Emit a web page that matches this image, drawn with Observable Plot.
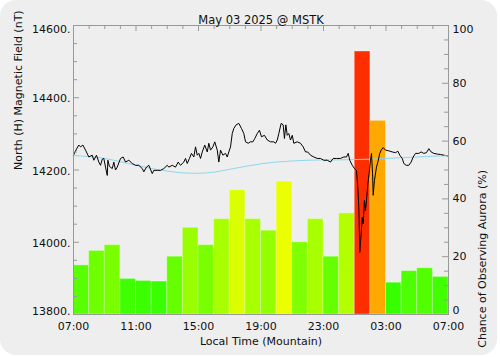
<!DOCTYPE html>
<html><head><meta charset="utf-8">
<script src="https://cdn.jsdelivr.net/npm/d3@7"></script>
<script src="https://cdn.jsdelivr.net/npm/@observablehq/plot@0.6"></script>
<style>
body{margin:0;background:#fff;}
#panel{position:absolute;left:0;top:0;width:497px;height:355px;background:#eeeeee;border-radius:16px;}
#chart{position:absolute;left:0;top:0;}
</style></head><body><div id="panel"></div><div id="chart"></div>
<script>
const title = "May 03 2025 @ MSTK";
const leftTitle = "North (H) Magnetic Field (nT)";
const rightTitle = "Chance of Observing Aurora (%)";
const xTitle = "Local Time (Mountain)";

// hourly bars: hours after 07:00 local
const barHours = [0,1,2,3,4,5,6,7,8,9,10,11,12,13,14,15,16,17,18,19,20,21,22,23];
const auroraChance = [17,22,24,12.3,11.6,11.4,20,30,24,33,43,33,29,46,25,33,20,35,91,67,11,15,16,13];

const xTickHours = [0,4,8,12,16,20,24];
const xTickLabels = ["07:00","11:00","15:00","19:00","23:00","03:00","07:00"];
const hourTicks = [1,2,3,5,6,7,9,10,11,13,14,15,17,18,19,21,22,23];
const fieldTicks = [13800,14000,14200,14400,14600];
const fieldMinorTicks = [13850,13900,13950,14050,14100,14150,14250,14300,14350,14450,14500,14550];
const chanceTicks = [0,20,40,60,80,100];
const chanceMinorTicks = [5,10,15,25,30,35,45,50,55,65,70,75,85,90,95];

const fieldHours = [0.00,0.19,0.34,0.45,0.60,0.77,0.98,1.20,1.30,1.47,1.62,1.73,1.84,1.94,2.05,2.16,2.20,2.30,2.48,2.58,2.69,2.80,3.01,3.18,3.33,3.54,3.76,3.97,4.18,4.40,4.50,4.67,4.82,5.04,5.14,5.36,5.57,5.78,6.00,6.10,6.32,6.53,6.70,6.85,7.06,7.17,7.28,7.42,7.55,7.70,7.81,7.92,8.02,8.13,8.24,8.40,8.56,8.66,8.77,8.92,9.04,9.20,9.30,9.41,9.56,9.73,9.84,9.94,10.05,10.16,10.26,10.41,10.58,10.75,10.90,11.01,11.18,11.33,11.48,11.60,11.76,11.90,12.03,12.22,12.40,12.61,12.82,12.93,13.04,13.14,13.29,13.42,13.50,13.59,13.68,13.78,13.89,14.00,14.10,14.32,14.53,14.70,14.85,14.99,15.17,15.38,15.60,15.81,16.02,16.24,16.45,16.62,16.83,17.09,17.30,17.47,17.58,17.68,17.84,17.98,18.11,18.20,18.26,18.32,18.41,18.48,18.54,18.62,18.69,18.75,18.84,18.92,19.01,19.07,19.14,19.18,19.26,19.39,19.48,19.60,19.69,19.82,19.97,20.18,20.40,20.61,20.76,20.88,21.04,21.14,21.29,21.46,21.61,21.74,21.89,22.10,22.25,22.42,22.59,22.74,22.89,23.06,23.28,23.49,23.70,23.95];
const fieldNT = [14241,14258,14269,14264,14269,14255,14236,14241,14227,14241,14222,14213,14230,14232,14208,14185,14227,14210,14204,14222,14200,14208,14232,14236,14222,14227,14218,14213,14213,14204,14195,14208,14213,14190,14199,14199,14199,14204,14213,14208,14213,14208,14222,14213,14222,14232,14218,14232,14246,14236,14264,14241,14246,14232,14250,14269,14250,14274,14255,14264,14278,14255,14222,14255,14241,14246,14236,14250,14264,14301,14315,14325,14329,14315,14301,14278,14274,14278,14278,14287,14301,14310,14292,14296,14283,14278,14278,14274,14283,14301,14329,14325,14287,14325,14296,14301,14283,14296,14274,14278,14274,14264,14250,14250,14241,14236,14232,14232,14227,14227,14222,14232,14232,14232,14236,14236,14246,14227,14213,14204,14199,14150,14097,13972,14023,14069,14051,14116,14088,14116,14162,14190,14227,14246,14190,14130,14171,14208,14222,14246,14255,14262,14255,14253,14250,14248,14252,14241,14232,14218,14213,14213,14222,14236,14246,14246,14250,14246,14248,14259,14250,14246,14244,14243,14241,14239];

const baseHours = [0,1,2,3,4,5,6,7,8,9,10,11,12,13,14,15,16,17,18,19,20,21,22,23,24];
const baseNT = [14240,14237,14232,14223,14213,14204,14197,14192,14191,14194,14202,14210,14217,14222,14225,14227,14228,14228,14229,14230,14232,14234,14236,14238,14240];

const FIELD_MIN = 13800, FIELD_MAX = 14600, NT_PER_PCT = 8;
const toNT = p => FIELD_MIN + p * NT_PER_PCT;

const bars = barHours.map((h, i) => ({h, pct: auroraChance[i]}));
const field = fieldHours.map((h, i) => ({h, v: fieldNT[i]}));
const base = baseHours.map((h, i) => ({h, v: baseNT[i]}));

const W = 500, H = 357, ML = 73, MR = 52, MT = 25, MB = 43;
const FW = W - ML - MR, FH = H - MT - MB;
const axisColor = "#999";

const fmtField = d => d + ".";
const fmtChance = d => String((d - FIELD_MIN) / NT_PER_PCT);
const chanceNT = chanceTicks.map(toNT);
const midField = fieldTicks.filter(d => d !== FIELD_MIN && d !== FIELD_MAX);
const midChance = chanceNT.filter(d => d !== FIELD_MIN && d !== FIELD_MAX);

const chart = Plot.plot({
  width: W, height: H,
  marginLeft: ML, marginRight: MR, marginTop: MT, marginBottom: MB,
  style: {background: "transparent", fontFamily: "DejaVu Sans", fontSize: "11px", color: "#111", overflow: "visible"},
  x: {domain: [0, 24]},
  y: {domain: [FIELD_MIN, FIELD_MAX]},
  color: {type: "linear", domain: [0, 50, 100], range: ["#00ff00", "#ffff00", "#ff0000"], interpolate: "rgb"},
  marks: [
    Plot.rect(bars, {x1: "h", x2: d => d.h + 1, y1: () => FIELD_MIN, y2: d => toNT(d.pct), fill: "pct", stroke: "#ffffff", strokeOpacity: 0.3, strokeWidth: 1}),
    Plot.line(base, {x: "h", y: "v", stroke: "#8fd6f0", strokeWidth: 1, curve: "natural"}),
    Plot.line(field, {x: "h", y: "v", stroke: "#000", strokeWidth: 1}),
    Plot.frame({stroke: axisColor}),
    Plot.tickY(fieldTicks, {y: d => d, insetRight: FW - 6, stroke: axisColor}),
    Plot.tickY(fieldMinorTicks, {y: d => d, insetRight: FW - 4, stroke: axisColor}),
    Plot.tickY(chanceTicks, {y: d => toNT(d), insetLeft: FW - 6, stroke: axisColor}),
    Plot.tickY(chanceMinorTicks, {y: d => toNT(d), insetLeft: FW - 4, stroke: axisColor}),
    Plot.tickX(xTickHours, {x: d => d, insetBottom: FH - 6, stroke: axisColor}),
    Plot.tickX(hourTicks, {x: d => d, insetBottom: FH - 4, stroke: axisColor}),
    Plot.axisY({anchor: "left", ticks: midField, tickFormat: fmtField, tickSize: 0, tickPadding: 3, dy: 1, label: null}),
    Plot.axisY({anchor: "left", ticks: [FIELD_MAX], tickFormat: fmtField, tickSize: 0, tickPadding: 3, dy: 4, label: null}),
    Plot.axisY({anchor: "left", ticks: [FIELD_MIN], tickFormat: fmtField, tickSize: 0, tickPadding: 3, dy: -3, label: null}),
    Plot.axisY({anchor: "right", ticks: midChance, tickFormat: fmtChance, tickSize: 0, tickPadding: 4, dy: 0, label: null}),
    Plot.axisY({anchor: "right", ticks: [FIELD_MAX], tickFormat: fmtChance, tickSize: 0, tickPadding: 4, dy: 4, label: null}),
    Plot.axisY({anchor: "right", ticks: [FIELD_MIN], tickFormat: fmtChance, tickSize: 0, tickPadding: 4, dy: -4, label: null}),
    Plot.axisX({anchor: "bottom", ticks: xTickHours, tickFormat: d => xTickLabels[xTickHours.indexOf(d)], tickSize: 0, tickPadding: 8, label: null}),
    Plot.text([title], {text: d => d, frameAnchor: "top", dy: -10, fontSize: 11.5}),
    Plot.text([leftTitle], {text: d => d, frameAnchor: "left", dx: -55, rotate: -90}),
    Plot.text([rightTitle], {text: d => d, frameAnchor: "right", dx: 34, rotate: -90}),
    Plot.text([xTitle], {text: d => d, frameAnchor: "bottom", dy: 30})
  ]
});
document.getElementById("chart").appendChild(chart);
</script></body></html>
